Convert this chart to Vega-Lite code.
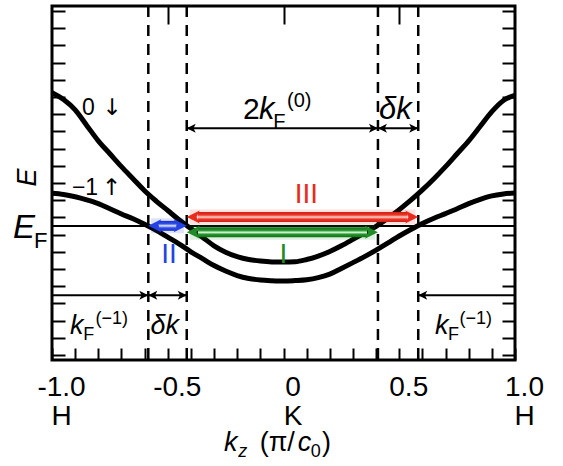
{
  "$schema": "https://vega.github.io/schema/vega-lite/v6.json",
  "width": 463,
  "height": 354,
  "autosize": "none",
  "padding": {"left": 52, "top": 6, "right": 48, "bottom": 106},
  "background": "white",
  "config": {
    "view": {"stroke": "black", "strokeWidth": 3},
    "font": "Liberation Sans",
    "axis": {"grid": false, "domain": false, "tickColor": "black", "tickWidth": 2, "labelFont": "Liberation Sans", "titleFont": "Liberation Sans"}
  },
  "layer": [
    {
      "data": {"values": [{"x": -0.584}, {"x": -0.418}, {"x": 0.408}, {"x": 0.582}]},
      "mark": {"type": "rule", "color": "black", "strokeWidth": 2.5, "strokeDash": [11, 8]},
      "encoding": {
        "x": {"field": "x", "type": "quantitative", "scale": {"domain": [-1, 1], "nice": false, "zero": false}, "axis": null}
      }
    },
    {
      "data": {"values": [{"y": 7.5}]},
      "mark": {"type": "rule", "color": "black", "strokeWidth": 2},
      "encoding": {
        "y": {"field": "y", "type": "quantitative", "scale": {"domain": [0, 20], "nice": false, "zero": false}, "axis": null}
      }
    },
    {
      "data": {"values": [
        {"band": "0", "x": -1.0, "y": 15.25}, {"band": "0", "x": -0.95, "y": 14.85}, {"band": "0", "x": -0.9, "y": 14.25},
        {"band": "0", "x": -0.85, "y": 13.35}, {"band": "0", "x": -0.8, "y": 12.45}, {"band": "0", "x": -0.75, "y": 11.7},
        {"band": "0", "x": -0.7, "y": 10.95}, {"band": "0", "x": -0.65, "y": 10.25}, {"band": "0", "x": -0.6, "y": 9.55},
        {"band": "0", "x": -0.55, "y": 8.95}, {"band": "0", "x": -0.5, "y": 8.4}, {"band": "0", "x": -0.45, "y": 7.85},
        {"band": "0", "x": -0.4, "y": 7.35}, {"band": "0", "x": -0.35, "y": 6.85}, {"band": "0", "x": -0.3, "y": 6.35},
        {"band": "0", "x": -0.25, "y": 5.98}, {"band": "0", "x": -0.2, "y": 5.72}, {"band": "0", "x": -0.15, "y": 5.55},
        {"band": "0", "x": -0.1, "y": 5.46}, {"band": "0", "x": -0.05, "y": 5.41}, {"band": "0", "x": 0.0, "y": 5.4},
        {"band": "0", "x": 0.05, "y": 5.42}, {"band": "0", "x": 0.1, "y": 5.55}, {"band": "0", "x": 0.15, "y": 5.75},
        {"band": "0", "x": 0.2, "y": 6.02}, {"band": "0", "x": 0.25, "y": 6.35}, {"band": "0", "x": 0.3, "y": 6.72},
        {"band": "0", "x": 0.35, "y": 7.1}, {"band": "0", "x": 0.4, "y": 7.48}, {"band": "0", "x": 0.45, "y": 7.95},
        {"band": "0", "x": 0.5, "y": 8.45}, {"band": "0", "x": 0.55, "y": 9.0}, {"band": "0", "x": 0.6, "y": 9.6},
        {"band": "0", "x": 0.65, "y": 10.25}, {"band": "0", "x": 0.7, "y": 10.95}, {"band": "0", "x": 0.75, "y": 11.7},
        {"band": "0", "x": 0.8, "y": 12.45}, {"band": "0", "x": 0.85, "y": 13.3}, {"band": "0", "x": 0.9, "y": 14.15},
        {"band": "0", "x": 0.95, "y": 14.8}, {"band": "0", "x": 1.0, "y": 15.1},
        {"band": "-1", "x": -1.0, "y": 9.4}, {"band": "-1", "x": -0.95, "y": 9.33}, {"band": "-1", "x": -0.9, "y": 9.2},
        {"band": "-1", "x": -0.85, "y": 9.02}, {"band": "-1", "x": -0.8, "y": 8.8}, {"band": "-1", "x": -0.75, "y": 8.5},
        {"band": "-1", "x": -0.7, "y": 8.2}, {"band": "-1", "x": -0.65, "y": 7.92}, {"band": "-1", "x": -0.6, "y": 7.6},
        {"band": "-1", "x": -0.55, "y": 7.25}, {"band": "-1", "x": -0.5, "y": 6.85}, {"band": "-1", "x": -0.45, "y": 6.45},
        {"band": "-1", "x": -0.4, "y": 6.0}, {"band": "-1", "x": -0.35, "y": 5.6}, {"band": "-1", "x": -0.3, "y": 5.2},
        {"band": "-1", "x": -0.25, "y": 4.88}, {"band": "-1", "x": -0.2, "y": 4.62}, {"band": "-1", "x": -0.15, "y": 4.45},
        {"band": "-1", "x": -0.1, "y": 4.36}, {"band": "-1", "x": -0.05, "y": 4.32}, {"band": "-1", "x": 0.0, "y": 4.3},
        {"band": "-1", "x": 0.05, "y": 4.33}, {"band": "-1", "x": 0.1, "y": 4.38}, {"band": "-1", "x": 0.15, "y": 4.5},
        {"band": "-1", "x": 0.2, "y": 4.7}, {"band": "-1", "x": 0.25, "y": 5.03}, {"band": "-1", "x": 0.3, "y": 5.37},
        {"band": "-1", "x": 0.35, "y": 5.72}, {"band": "-1", "x": 0.4, "y": 6.1}, {"band": "-1", "x": 0.45, "y": 6.5},
        {"band": "-1", "x": 0.5, "y": 6.92}, {"band": "-1", "x": 0.55, "y": 7.3}, {"band": "-1", "x": 0.6, "y": 7.65},
        {"band": "-1", "x": 0.65, "y": 7.95}, {"band": "-1", "x": 0.7, "y": 8.22}, {"band": "-1", "x": 0.75, "y": 8.5},
        {"band": "-1", "x": 0.8, "y": 8.8}, {"band": "-1", "x": 0.85, "y": 9.05}, {"band": "-1", "x": 0.9, "y": 9.25},
        {"band": "-1", "x": 0.95, "y": 9.36}, {"band": "-1", "x": 1.0, "y": 9.42}
      ]},
      "mark": {"type": "line", "color": "black", "strokeWidth": 5, "interpolate": "monotone", "clip": true},
      "encoding": {
        "x": {"field": "x", "type": "quantitative", "scale": {"domain": [-1, 1], "nice": false, "zero": false},
          "axis": {"orient": "bottom", "values": [-1, -0.9, -0.8, -0.7, -0.6, -0.5, -0.4, -0.3, -0.2, -0.1, 0, 0.1, 0.2, 0.3, 0.4, 0.5, 0.6, 0.7, 0.8, 0.9, 1],
            "tickSize": -12, "labelPadding": 25, "labelFontSize": 28, "labelColor": "black", "labelFlush": false, "labelOverlap": false, "labelBound": false,
            "labelOffset": 9, "labelLineHeight": 29, "labelBaseline": "top",
            "labelExpr": "datum.value == -1 ? ['-1.0','H'] : datum.value == -0.5 ? ['-0.5',''] : datum.value == 0 ? ['0','K'] : datum.value == 0.5 ? ['0.5',''] : datum.value == 1 ? ['1.0','H'] : ''",
            "title": null}},
        "y": {"field": "y", "type": "quantitative", "scale": {"domain": [0, 20], "nice": false, "zero": false},
          "axis": {"orient": "left", "values": [0, 1, 2, 3, 4, 5, 6, 7, 8, 9, 10, 11, 12, 13, 14, 15, 16, 17, 18, 19, 20],
            "tickSize": -13, "labels": false, "title": "E", "titleFontSize": 27, "titleFontStyle": "italic", "titleFontWeight": "normal", "titleColor": "black",
            "titleAngle": -90, "titleX": -25, "titleY": 171, "titleAlign": "center", "titleBaseline": "middle"}},
        "detail": {"field": "band"}
      }
    },
    {
      "data": {"values": [
        {"x": -0.418, "x2": 0.408, "y": 13.18}, {"x": 0.408, "x2": 0.582, "y": 13.18},
        {"x": -1, "x2": -0.584, "y": 3.47}, {"x": -0.584, "x2": -0.418, "y": 3.47}, {"x": 0.582, "x2": 1, "y": 3.47}
      ]},
      "mark": {"type": "rule", "color": "black", "strokeWidth": 2},
      "encoding": {
        "x": {"field": "x", "type": "quantitative", "scale": {"domain": [-1, 1], "nice": false, "zero": false}, "axis": null},
        "x2": {"field": "x2"},
        "y": {"field": "y", "type": "quantitative", "scale": {"domain": [0, 20], "nice": false, "zero": false}, "axis": null}
      }
    },
    {
      "data": {"values": [
        {"x": -0.418, "y": 13.18, "dir": "L"}, {"x": 0.408, "y": 13.18, "dir": "R"},
        {"x": 0.408, "y": 13.18, "dir": "L"}, {"x": 0.582, "y": 13.18, "dir": "R"},
        {"x": -0.584, "y": 3.47, "dir": "R"}, {"x": -0.584, "y": 3.47, "dir": "L"},
        {"x": -0.418, "y": 3.47, "dir": "R"}, {"x": 0.582, "y": 3.47, "dir": "L"}
      ]},
      "mark": {"type": "point", "filled": true, "color": "black", "opacity": 1, "size": 324, "strokeWidth": 0},
      "encoding": {
        "x": {"field": "x", "type": "quantitative", "scale": {"domain": [-1, 1], "nice": false, "zero": false}, "axis": null},
        "y": {"field": "y", "type": "quantitative", "scale": {"domain": [0, 20], "nice": false, "zero": false}, "axis": null},
        "shape": {"field": "dir", "type": "nominal", "scale": {"domain": ["L", "R"], "range": ["M0,0L1,-0.5L0.75,0L1,0.5Z", "M0,0L-1,-0.5L-0.75,0L-1,0.5Z"]}, "legend": null}
      }
    },
    {
      "data": {"values": [{"x": -0.405, "x2": 0.57, "y": 8.02, "c": "red"}, {"x": -0.405, "x2": 0.396, "y": 7.13, "c": "green"}, {"x": -0.572, "x2": -0.43, "y": 7.51, "c": "blue"}]},
      "mark": {"type": "bar", "orient": "horizontal", "size": 15, "opacity": 0.14},
      "encoding": {
        "x": {"field": "x", "type": "quantitative", "scale": {"domain": [-1, 1], "nice": false, "zero": false}, "axis": null},
        "x2": {"field": "x2"},
        "y": {"field": "y", "type": "quantitative", "scale": {"domain": [0, 20], "nice": false, "zero": false}, "axis": null},
        "color": {"field": "c", "type": "nominal", "scale": {"domain": ["red", "green", "blue"], "range": ["#ea2a1c", "#1f8c25", "#2442e6"]}, "legend": null}
      }
    },
    {
      "data": {"values": [{"x": -0.37, "x2": 0.535, "y": 8.02}]},
      "mark": {"type": "bar", "orient": "horizontal", "size": 10, "fill": {"gradient": "linear", "x1": 0, "y1": 0, "x2": 0, "y2": 1, "stops": [{"offset": 0, "color": "#cc2016"}, {"offset": 0.3, "color": "#ee3626"}, {"offset": 0.5, "color": "#ffd6d0"}, {"offset": 0.7, "color": "#ee3626"}, {"offset": 1, "color": "#cc2016"}]}},
      "encoding": {
        "x": {"field": "x", "type": "quantitative", "scale": {"domain": [-1, 1], "nice": false, "zero": false},
          "axis": {"orient": "top", "values": [-0.5, 0, 0.5], "tickSize": -18, "labels": false, "title": null}},
        "x2": {"field": "x2"},
        "y": {"field": "y", "type": "quantitative", "scale": {"domain": [0, 20], "nice": false, "zero": false}, "axis": null}
      }
    },
    {
      "data": {"values": [{"x": -0.37, "x2": 0.361, "y": 7.13}]},
      "mark": {"type": "bar", "orient": "horizontal", "size": 10, "fill": {"gradient": "linear", "x1": 0, "y1": 0, "x2": 0, "y2": 1, "stops": [{"offset": 0, "color": "#126e18"}, {"offset": 0.3, "color": "#22962a"}, {"offset": 0.5, "color": "#d8f4d8"}, {"offset": 0.7, "color": "#22962a"}, {"offset": 1, "color": "#126e18"}]}},
      "encoding": {
        "x": {"field": "x", "type": "quantitative", "scale": {"domain": [-1, 1], "nice": false, "zero": false}, "axis": null},
        "x2": {"field": "x2"},
        "y": {"field": "y", "type": "quantitative", "scale": {"domain": [0, 20], "nice": false, "zero": false},
          "axis": {"orient": "right", "values": [0, 1, 2, 3, 4, 5, 6, 7, 8, 9, 10, 11, 12, 13, 14, 15, 16, 17, 18, 19, 20], "tickSize": -13, "labels": false, "title": null}}
      }
    },
    {
      "data": {"values": [{"x": -0.54, "x2": -0.462, "y": 7.51}]},
      "mark": {"type": "bar", "orient": "horizontal", "size": 10, "fill": {"gradient": "linear", "x1": 0, "y1": 0, "x2": 0, "y2": 1, "stops": [{"offset": 0, "color": "#1830c8"}, {"offset": 0.3, "color": "#3250e8"}, {"offset": 0.5, "color": "#e4e8ff"}, {"offset": 0.7, "color": "#3250e8"}, {"offset": 1, "color": "#1830c8"}]}},
      "encoding": {
        "x": {"field": "x", "type": "quantitative", "scale": {"domain": [-1, 1], "nice": false, "zero": false}, "axis": null},
        "x2": {"field": "x2"},
        "y": {"field": "y", "type": "quantitative", "scale": {"domain": [0, 20], "nice": false, "zero": false}, "axis": null}
      }
    },
    {
      "data": {"values": [
        {"x": -0.418, "y": 8.02, "dir": "L", "c": "red"}, {"x": 0.582, "y": 8.02, "dir": "R", "c": "red"},
        {"x": -0.418, "y": 7.13, "dir": "L", "c": "green"}, {"x": 0.408, "y": 7.13, "dir": "R", "c": "green"},
        {"x": -0.584, "y": 7.51, "dir": "L", "c": "blue"}, {"x": -0.418, "y": 7.51, "dir": "R", "c": "blue"}
      ]},
      "mark": {"type": "point", "filled": true, "opacity": 1, "size": 676, "strokeWidth": 0},
      "encoding": {
        "x": {"field": "x", "type": "quantitative", "scale": {"domain": [-1, 1], "nice": false, "zero": false}, "axis": null},
        "y": {"field": "y", "type": "quantitative", "scale": {"domain": [0, 20], "nice": false, "zero": false}, "axis": null},
        "shape": {"field": "dir", "type": "nominal", "scale": {"domain": ["L", "R"], "range": ["M0,0L1,-0.62L1,0.62Z", "M0,0L-1,-0.62L-1,0.62Z"]}, "legend": null},
        "color": {"field": "c", "type": "nominal", "scale": {"domain": ["red", "green", "blue"], "range": ["#ea2a1c", "#1f8c25", "#2442e6"]}, "legend": null}
      }
    },
    {
      "data": {"values": [
        {"x": 0.099, "y": 9.32, "t": "III", "c": "red"},
        {"x": -0.495, "y": 5.79, "t": "II", "c": "blue"},
        {"x": 0.0, "y": 5.79, "t": "I", "c": "green"}
      ]},
      "mark": {"type": "text", "font": "Liberation Sans", "fontSize": 28, "align": "center", "baseline": "middle"},
      "encoding": {
        "x": {"field": "x", "type": "quantitative", "scale": {"domain": [-1, 1], "nice": false, "zero": false}, "axis": null},
        "y": {"field": "y", "type": "quantitative", "scale": {"domain": [0, 20], "nice": false, "zero": false}, "axis": null},
        "text": {"field": "t"},
        "color": {"field": "c", "type": "nominal", "scale": {"domain": ["red", "green", "blue"], "range": ["#ea2a1c", "#1f8c25", "#2442e6"]}, "legend": null}
      }
    },
    {
      "data": {"values": [
        {"x": -0.87, "y": 13.95, "t": "0"},
        {"x": -0.914, "y": 9.32, "t": "−1"}
      ]},
      "mark": {"type": "text", "font": "Liberation Sans", "fontSize": 23, "align": "left", "baseline": "alphabetic", "color": "black"},
      "encoding": {
        "x": {"field": "x", "type": "quantitative", "scale": {"domain": [-1, 1], "nice": false, "zero": false}, "axis": null},
        "y": {"field": "y", "type": "quantitative", "scale": {"domain": [0, 20], "nice": false, "zero": false}, "axis": null},
        "text": {"field": "t"}
      }
    },
    {
      "data": {"values": [
        {"x": -0.783, "y": 13.95, "t": "↓"},
        {"x": -0.785, "y": 9.32, "t": "↑"}
      ]},
      "mark": {"type": "text", "font": "DejaVu Sans", "fontSize": 23, "align": "left", "baseline": "alphabetic", "color": "black"},
      "encoding": {
        "x": {"field": "x", "type": "quantitative", "scale": {"domain": [-1, 1], "nice": false, "zero": false}, "axis": null},
        "y": {"field": "y", "type": "quantitative", "scale": {"domain": [0, 20], "nice": false, "zero": false}, "axis": null},
        "text": {"field": "t"}
      }
    },
    {
      "data": {"values": [{"x": -0.175, "y": 13.73, "t": "2"}]},
      "mark": {"type": "text", "font": "Liberation Sans", "fontSize": 30, "align": "left", "baseline": "alphabetic", "color": "black"},
      "encoding": {
        "x": {"field": "x", "type": "quantitative", "scale": {"domain": [-1, 1], "nice": false, "zero": false}, "axis": null},
        "y": {"field": "y", "type": "quantitative", "scale": {"domain": [0, 20], "nice": false, "zero": false}, "axis": null},
        "text": {"field": "t"}
      }
    },
    {
      "data": {"values": [{"x": -0.106, "y": 13.73, "t": "k"}, {"x": 0.4125, "y": 13.73, "t": "δk"}]},
      "mark": {"type": "text", "font": "Liberation Sans", "fontSize": 31, "fontStyle": "italic", "align": "left", "baseline": "alphabetic", "color": "black"},
      "encoding": {
        "x": {"field": "x", "type": "quantitative", "scale": {"domain": [-1, 1], "nice": false, "zero": false}, "axis": null},
        "y": {"field": "y", "type": "quantitative", "scale": {"domain": [0, 20], "nice": false, "zero": false}, "axis": null},
        "text": {"field": "t"}
      }
    },
    {
      "data": {"values": [{"x": -0.044, "y": 13.22, "t": "F"}, {"x": 0.015, "y": 14.4, "t": "(0)"}]},
      "mark": {"type": "text", "font": "Liberation Sans", "fontSize": 20, "align": "left", "baseline": "alphabetic", "color": "black"},
      "encoding": {
        "x": {"field": "x", "type": "quantitative", "scale": {"domain": [-1, 1], "nice": false, "zero": false}, "axis": null},
        "y": {"field": "y", "type": "quantitative", "scale": {"domain": [0, 20], "nice": false, "zero": false}, "axis": null},
        "text": {"field": "t"}
      }
    },
    {
      "data": {"values": [{"x": -0.922, "y": 1.24, "t": "k"}, {"x": -0.574, "y": 1.24, "t": "δk"}, {"x": 0.654, "y": 1.24, "t": "k"}]},
      "mark": {"type": "text", "font": "Liberation Sans", "fontSize": 27, "fontStyle": "italic", "align": "left", "baseline": "alphabetic", "color": "black"},
      "encoding": {
        "x": {"field": "x", "type": "quantitative", "scale": {"domain": [-1, 1], "nice": false, "zero": false}, "axis": null},
        "y": {"field": "y", "type": "quantitative", "scale": {"domain": [0, 20], "nice": false, "zero": false}, "axis": null},
        "text": {"field": "t"}
      }
    },
    {
      "data": {"values": [
        {"x": -0.865, "y": 0.85, "t": "F"}, {"x": -0.812, "y": 1.81, "t": "(−1)"},
        {"x": 0.711, "y": 0.85, "t": "F"}, {"x": 0.76, "y": 1.81, "t": "(−1)"}
      ]},
      "mark": {"type": "text", "font": "Liberation Sans", "fontSize": 18, "align": "left", "baseline": "alphabetic", "color": "black"},
      "encoding": {
        "x": {"field": "x", "type": "quantitative", "scale": {"domain": [-1, 1], "nice": false, "zero": false}, "axis": null},
        "y": {"field": "y", "type": "quantitative", "scale": {"domain": [0, 20], "nice": false, "zero": false}, "axis": null},
        "text": {"field": "t"}
      }
    },
    {
      "data": {"values": [{"x": -1.1685, "y": 6.78, "t": "E"}]},
      "mark": {"type": "text", "font": "Liberation Sans", "fontSize": 33, "fontStyle": "italic", "align": "left", "baseline": "alphabetic", "color": "black"},
      "encoding": {
        "x": {"field": "x", "type": "quantitative", "scale": {"domain": [-1, 1], "nice": false, "zero": false}, "axis": null},
        "y": {"field": "y", "type": "quantitative", "scale": {"domain": [0, 20], "nice": false, "zero": false}, "axis": null},
        "text": {"field": "t"}
      }
    },
    {
      "data": {"values": [{"x": -1.078, "y": 6.21, "t": "F"}]},
      "mark": {"type": "text", "font": "Liberation Sans", "fontSize": 22, "align": "left", "baseline": "alphabetic", "color": "black"},
      "encoding": {
        "x": {"field": "x", "type": "quantitative", "scale": {"domain": [-1, 1], "nice": false, "zero": false}, "axis": null},
        "y": {"field": "y", "type": "quantitative", "scale": {"domain": [0, 20], "nice": false, "zero": false}, "axis": null},
        "text": {"field": "t"}
      }
    },
    {
      "data": {"values": [{"x": -0.257, "y": -5.6, "t": "k"}, {"x": 0.062, "y": -5.6, "t": "c"}]},
      "mark": {"type": "text", "font": "Liberation Sans", "fontSize": 27, "fontStyle": "italic", "align": "left", "baseline": "alphabetic", "color": "black"},
      "encoding": {
        "x": {"field": "x", "type": "quantitative", "scale": {"domain": [-1, 1], "nice": false, "zero": false}, "axis": null},
        "y": {"field": "y", "type": "quantitative", "scale": {"domain": [0, 20], "nice": false, "zero": false}, "axis": null},
        "text": {"field": "t"}
      }
    },
    {
      "data": {"values": [{"x": -0.103, "y": -5.6, "t": "(π/"}, {"x": 0.166, "y": -5.6, "t": ")"}]},
      "mark": {"type": "text", "font": "Liberation Sans", "fontSize": 27, "align": "left", "baseline": "alphabetic", "color": "black"},
      "encoding": {
        "x": {"field": "x", "type": "quantitative", "scale": {"domain": [-1, 1], "nice": false, "zero": false}, "axis": null},
        "y": {"field": "y", "type": "quantitative", "scale": {"domain": [0, 20], "nice": false, "zero": false}, "axis": null},
        "text": {"field": "t"}
      }
    },
    {
      "data": {"values": [{"x": -0.195, "y": -5.94, "t": "z"}]},
      "mark": {"type": "text", "font": "Liberation Sans", "fontSize": 18, "fontStyle": "italic", "align": "left", "baseline": "alphabetic", "color": "black"},
      "encoding": {
        "x": {"field": "x", "type": "quantitative", "scale": {"domain": [-1, 1], "nice": false, "zero": false}, "axis": null},
        "y": {"field": "y", "type": "quantitative", "scale": {"domain": [0, 20], "nice": false, "zero": false}, "axis": null},
        "text": {"field": "t"}
      }
    },
    {
      "data": {"values": [{"x": 0.118, "y": -5.94, "t": "0"}]},
      "mark": {"type": "text", "font": "Liberation Sans", "fontSize": 18, "align": "left", "baseline": "alphabetic", "color": "black"},
      "encoding": {
        "x": {"field": "x", "type": "quantitative", "scale": {"domain": [-1, 1], "nice": false, "zero": false}, "axis": null},
        "y": {"field": "y", "type": "quantitative", "scale": {"domain": [0, 20], "nice": false, "zero": false}, "axis": null},
        "text": {"field": "t"}
      }
    }
  ]
}
